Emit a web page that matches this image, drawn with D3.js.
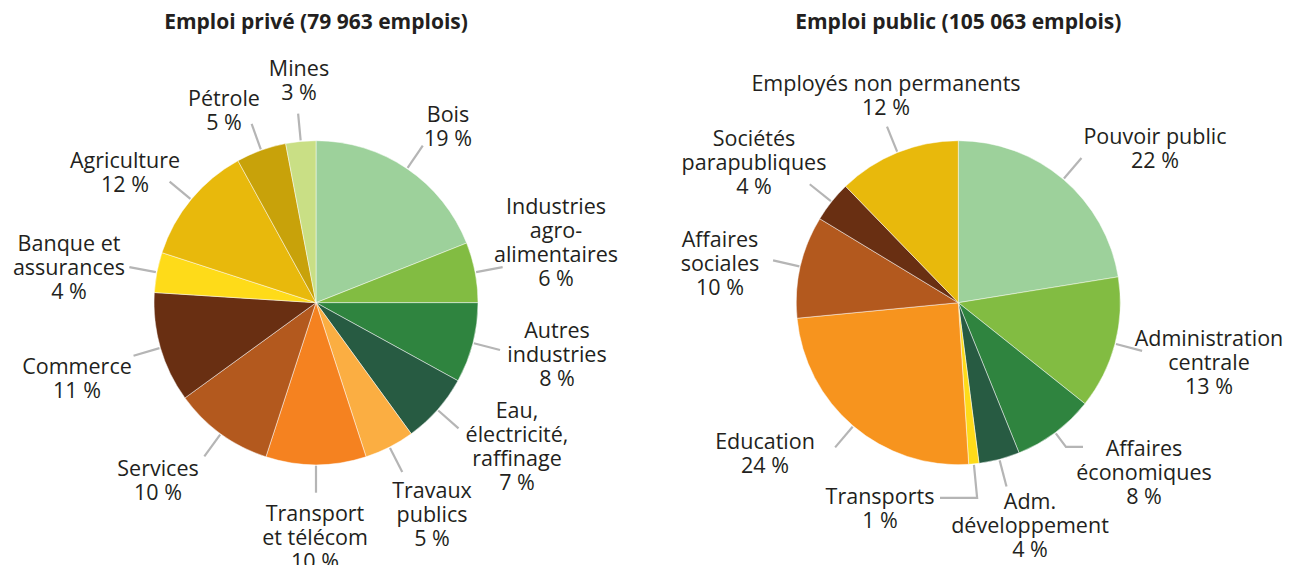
<!DOCTYPE html>
<html>
<head>
<meta charset="utf-8">
<script src="https://cdn.jsdelivr.net/npm/d3@7"></script>
<style>
  html, body { margin: 0; padding: 0; background: #fff; }
  svg text { font-family: "Open Sans", "Noto Sans", sans-serif; fill: #231f20; }
</style>
</head>
<body>
<svg id="chart" width="1294" height="565"></svg>
<script>
// Private employment, share of jobs by sector (%)
const privateSectors = ["Bois", "Industries agro-alimentaires", "Autres industries",
  "Eau, électricité, raffinage", "Travaux publics", "Transport et télécom", "Services",
  "Commerce", "Banque et assurances", "Agriculture", "Pétrole", "Mines"];
const privateShares = [19, 6, 8, 7, 5, 10, 10, 11, 4, 12, 5, 3];
const privateLabelLines = [["Bois"], ["Industries", "agro-", "alimentaires"], ["Autres", "industries"],
  ["Eau,", "électricité,", "raffinage"], ["Travaux", "publics"], ["Transport", "et télécom"],
  ["Services"], ["Commerce"], ["Banque et", "assurances"], ["Agriculture"], ["Pétrole"], ["Mines"]];
const privateColors = ["#9dd19b", "#82bc42", "#2f843f", "#275b42", "#fbae42", "#f58220",
  "#b3591e", "#692f12", "#fedb19", "#e8b90c", "#c8a20a", "#c9df85"];

// Public employment, share of jobs by branch (%)
const publicSectors = ["Pouvoir public", "Administration centrale", "Affaires économiques",
  "Adm. développement", "Transports", "Education", "Affaires sociales",
  "Sociétés parapubliques", "Employés non permanents"];
const publicShares = [22, 13, 8, 4, 1, 24, 10, 4, 12];
const publicLabelLines = [["Pouvoir public"], ["Administration", "centrale"], ["Affaires", "économiques"],
  ["Adm.", "développement"], ["Transports"], ["Education"], ["Affaires", "sociales"],
  ["Sociétés", "parapubliques"], ["Employés non permanents"]];
const publicColors = ["#9dd19b", "#82bc42", "#2f843f", "#275b42", "#fedb19", "#f7941e",
  "#b3591e", "#692f12", "#e8b90c"];

const titles = ["Emploi privé (79 963 emplois)", "Emploi public (105 063 emplois)"];

// Label placement: centre x and centre y of the first text line
const privateLabelAt = [[448, 114], [556, 206], [557, 330], [517, 410], [432, 490], [315, 513],
  [158, 468], [77, 366], [69, 243], [125, 160], [224, 98], [299, 68]];
const publicLabelAt = [[1155, 136], [1209, 338], [1144, 448], [1030, 501], [880, 496],
  [765, 441], [720, 239], [754, 138], [886, 83]];
// Leader shapes: radial length beyond the rim, optional horizontal hook end x
const publicLeaders = [{}, {}, { len: 18, hookTo: 1083 }, {}, { len: 34, hookTo: 940 }, {}, {}, {}, {}];

const svg = d3.select("#chart");
const R = 162;
const LINE_H = 24;

function drawPie(cx, cy, title, sectors, shares, lines, colors, labelAt, leaders) {
  const g = svg.append("g");

  g.append("text")
    .attr("x", cx).attr("y", 22)
    .attr("dy", "0.35em")
    .attr("text-anchor", "middle")
    .style("font-size", "21px")
    .style("font-weight", "700")
    .text(title);

  const data = sectors.map((s, i) => ({ sector: s, value: shares[i], lines: lines[i],
    color: colors[i], at: labelAt[i], leader: (leaders && leaders[i]) || {} }));

  const pie = d3.pie().value(d => d.value).sort(null);
  const arcs = pie(data);
  const arc = d3.arc().innerRadius(0).outerRadius(R);

  const pieG = g.append("g").attr("transform", `translate(${cx},${cy})`);
  pieG.selectAll("path.slice")
    .data(arcs)
    .join("path")
    .attr("class", "slice")
    .attr("d", arc)
    .attr("fill", d => d.data.color)
    .attr("stroke", "#ffffff")
    .attr("stroke-width", 0.6)
    .attr("stroke-opacity", 0.8);

  // leader lines from the rim, along the slice's mid angle
  pieG.selectAll("path.leader")
    .data(arcs)
    .join("path")
    .attr("class", "leader")
    .attr("fill", "none")
    .attr("stroke", "#b5b5b5")
    .attr("stroke-width", 2.2)
    .attr("d", d => {
      const len = d.data.leader.len || 28;
      const a = (d.startAngle + d.endAngle) / 2;
      const p0 = [Math.sin(a) * (R + 1), -Math.cos(a) * (R + 1)];
      const p1 = [Math.sin(a) * (R + len), -Math.cos(a) * (R + len)];
      const pts = [p0, p1];
      if (d.data.leader.hookTo !== undefined) pts.push([d.data.leader.hookTo - cx, p1[1]]);
      return d3.line()(pts);
    });

  // labels: category lines followed by the share
  const labels = g.selectAll("text.label")
    .data(arcs)
    .join("text")
    .attr("class", "label")
    .attr("text-anchor", "middle")
    .style("font-size", "21.5px");

  labels.each(function (d) {
    const t = d3.select(this);
    const rows = d.data.lines.concat([`${d.data.value}\u00a0%`]);
    rows.forEach((row, i) => {
      t.append("tspan")
        .attr("x", d.data.at[0])
        .attr("y", d.data.at[1] + i * LINE_H)
        .attr("dy", "0.36em")
        .text(row);
    });
  });
}

drawPie(316, 302.7, titles[0], privateSectors, privateShares, privateLabelLines,
  privateColors, privateLabelAt, null);
drawPie(958.3, 302.7, titles[1], publicSectors, publicShares, publicLabelLines,
  publicColors, publicLabelAt, publicLeaders);
</script>
</body>
</html>
